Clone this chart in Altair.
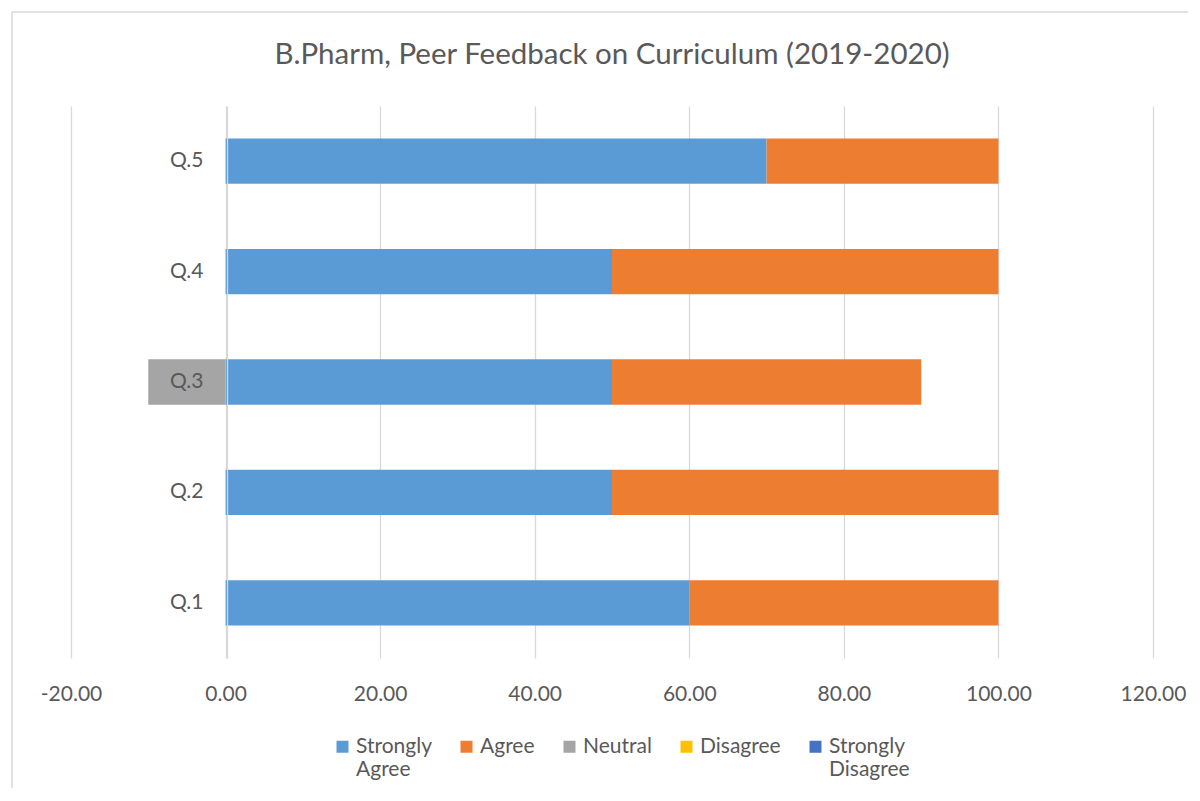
import altair as alt
import pandas as pd

questions = ["Q.1", "Q.2", "Q.3", "Q.4", "Q.5"]
series = ["Strongly Agree", "Agree", "Neutral", "Disagree", "Strongly Disagree"]
colors = ["#5B9BD5", "#ED7D31", "#A5A5A5", "#FFC000", "#4472C4"]
strongly_agree = [60, 50, 50, 50, 70]
agree = [40, 50, 40, 50, 30]
neutral = [0, 0, -10, 0, 0]
disagree = [0, 0, 0, 0, 0]
strongly_disagree = [0, 0, 0, 0, 0]
x_ticks = [-20, 0, 20, 40, 60, 80, 100, 120]
title_text = "B.Pharm, Peer Feedback on Curriculum (2019-2020)"

rows = []
for vals, name, idx in zip([strongly_agree, agree, neutral, disagree, strongly_disagree], series, range(5)):
    for q, v in zip(questions, vals):
        rows.append({"question": q, "series": name, "value": v, "order": idx})
df = pd.DataFrame(rows)

FONT = "Lato"
TXT = "#595959"
GRID = "#D9D9D9"

bars = alt.Chart(df).mark_bar().encode(
    x=alt.X(
        "value:Q",
        stack="zero",
        scale=alt.Scale(domain=[-20, 120], nice=False, zero=False),
        axis=alt.Axis(
            values=x_ticks,
            labelExpr="replace(format(datum.value, '.2f'), '\u2212', '-')",
            title=None,
            grid=True,
            gridColor=GRID,
            gridWidth=1.3,
            domain=False,
            ticks=False,
            labelFlush=False,
            labelFont=FONT,
            labelFontSize=21,
            labelColor=TXT,
            labelPadding=25,
            zindex=0,
        ),
    ),
    y=alt.Y(
        "question:N",
        sort=["Q.5", "Q.4", "Q.3", "Q.2", "Q.1"],
        scale=alt.Scale(paddingInner=0.59, paddingOuter=0.295),
        axis=alt.Axis(
            title=None,
            offset=-156,
            grid=False,
            ticks=False,
            domain=True,
            domainColor=GRID,
            domainWidth=1.3,
            labelFont=FONT,
            labelFontSize=21,
            labelColor=TXT,
            labelPadding=24,
            zindex=1,
        ),
    ),
    color=alt.Color(
        "series:N",
        scale=alt.Scale(domain=series, range=colors),
        legend=alt.Legend(
            title=None,
            orient="none",
            legendX=261,
            legendY=630,
            direction="horizontal",
            columns=5,
            symbolType="square",
            symbolSize=144,
            symbolStrokeWidth=0,
            labelFont=FONT,
            labelFontSize=21,
            labelColor=TXT,
            labelOffset=3,
            labelBaseline="middle",
            labelLimit=300,
            columnPadding=24,
            padding=0,
            labelExpr="indexof(datum.label, ' ') >= 0 ? split(datum.label, ' ') : [datum.label, ' ']",
        ),
    ),
    order=alt.Order("order:Q"),
)

border = alt.Chart(pd.DataFrame({"a": [0]})).mark_rect(
    fill="white", fillOpacity=0, stroke=GRID, strokeWidth=1.5
).encode(
    x=alt.value(-59), x2=alt.value(1150), y=alt.value(-94), y2=alt.value(720)
)

chart = alt.layer(border, bars).properties(
    width=1082,
    height=552,
    background="white",
    title=alt.TitleParams(
        title_text, font=FONT, fontSize=29.5, fontWeight="normal", color=TXT,
        anchor="middle", offset=-59, baseline="top",
    ),
    autosize=alt.AutoSizeParams(type="none"),
    padding={"left": 63, "top": 98, "right": 35, "bottom": 130},
).configure_view(stroke="transparent", strokeWidth=0)

chart.save("out.html", embed_options={"renderer": "svg", "actions": False})
